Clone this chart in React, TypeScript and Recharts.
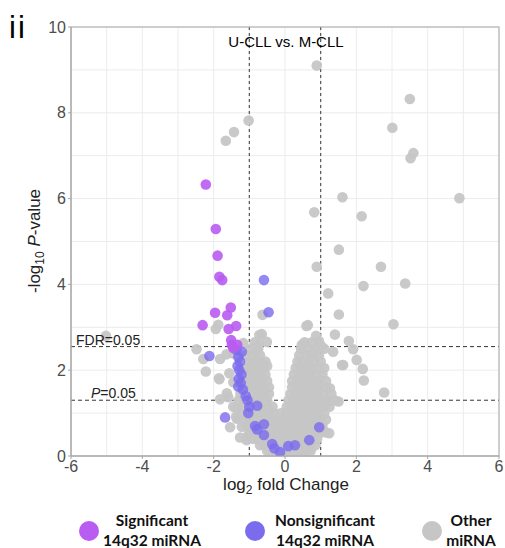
import React from 'react';
import { ScatterChart, Scatter, XAxis, YAxis, CartesianGrid, ReferenceLine, Legend } from 'recharts';

// ---------- axes ----------
const xTicks = [-6, -4, -2, 0, 2, 4, 6];
const yTicks = [0, 2, 4, 6, 8, 10];
const xGrid = [-6, -5, -4, -3, -2, -1, 0, 1, 2, 3, 4, 5, 6];
const yGrid = [0, 1, 2, 3, 4, 5, 6, 7, 8, 9, 10];
const foldThresholds = [-1, 1];
const fdrThreshold = 2.55;
const pThreshold = 1.3;

const seriesNames = ['Significant\n14q32 miRNA', 'Nonsignificant\n14q32 miRNA', 'Other\nmiRNA'];
const seriesColors = ['#b85cf2', '#7b6cee', '#c6c6c6'];

// ---------- data: [log2 fold change, -log10 P] ----------
const significant14q32: [number, number][] = [
  [-2.22, 6.33], [-1.94, 5.29], [-1.89, 4.67], [-1.84, 4.18], [-1.76, 4.1],
  [-1.96, 3.34], [-1.52, 3.46], [-1.62, 3.28], [-2.31, 3.05], [-1.37, 3.03],
  [-1.58, 2.96], [-1.51, 2.7], [-1.49, 2.59], [-1.34, 2.59], [-1.45, 2.52],
];

const nonsignificant14q32: [number, number][] = [
  [-0.59, 4.1], [-0.46, 3.35], [-2.12, 2.33], [-1.36, 2.47], [-1.21, 2.43],
  [-1.31, 2.3], [-1.26, 2.2], [-1.33, 2.1], [-1.28, 2.0], [-1.22, 1.9],
  [-1.3, 1.8], [-1.24, 1.7], [-1.31, 1.62], [-1.18, 1.55], [-1.1, 1.4],
  [-1.05, 1.3], [-1.0, 1.15], [-1.03, 1.0], [-0.78, 1.17], [-1.68, 0.9],
  [-0.84, 0.7], [-0.78, 0.62], [-0.59, 0.74], [-0.59, 0.49], [-0.36, 0.28],
  [-0.3, 0.18], [-0.14, 0.09], [0.09, 0.23], [0.28, 0.25], [0.68, 0.37],
  [0.96, 0.67],
];

const otherOutliers: [number, number][] = [
  [0.89, 9.1], [3.5, 8.32], [3.01, 7.65], [3.6, 7.06], [3.52, 6.94],
  [-1.02, 7.82], [-1.43, 7.55], [-1.66, 7.35], [1.61, 6.03], [4.89, 6.01],
  [0.82, 5.68], [2.15, 5.59], [1.51, 4.81], [0.89, 4.41], [2.69, 4.41],
  [2.2, 3.96], [3.37, 4.02], [1.21, 3.79], [1.51, 3.3], [-0.63, 3.29],
  [0.64, 3.05], [0.6, 3.03], [3.04, 3.07], [1.4, 2.83], [0.87, 2.8],
  [-0.65, 2.84], [-0.72, 2.82], [1.79, 2.68], [1.91, 2.49], [1.35, 2.43],
  [1.6, 2.12], [2.18, 2.03], [2.21, 1.76], [2.78, 1.48], [0.47, 2.59],
  [1.01, 2.57], [0.79, 2.39], [-0.5, 2.1], [-0.51, 2.66], [1.63, 2.12],
  [2.01, 2.24], [-5.02, 2.8], [-1.87, 3.06], [-1.94, 2.96], [-1.17, 2.63],
  [-2.48, 2.49], [-2.29, 2.26], [-1.82, 2.26], [-0.8, 2.45], [-0.98, 2.08],
  [-2.22, 1.97], [-1.84, 1.79], [-1.56, 1.93], [-1.45, 1.72], [-1.59, 1.37],
  [-1.35, 1.11], [-1.54, 0.67], [-1.35, 0.87], [-1.21, 0.68], [-1.06, 0.45],
  [-1.64, 2.37], [-1.45, 2.39], [-1.82, 1.32], [-1.63, 1.46], [-1.45, 1.15],
  [-1.37, 0.92], [-1.26, 0.43], [-1.08, 0.37], [-1.85, 1.81], [-0.73, 2.61],
  [1.26, 1.58], [1.19, 1.27], [1.24, 0.53], [1.5, 1.27], [1.4, 1.3],
];

const otherCloud: [number, number][] = [
  [-0.25, 0.03], [-0.1, 0.03], [0.05, 0.03], [0.2, 0.03], [0.35, 0.03], [0.5, 0.03],
  [-0.5, 0.12], [-0.35, 0.12], [-0.2, 0.12], [0.0, 0.12], [0.15, 0.12], [0.3, 0.12], [0.45, 0.12], [0.6, 0.12], [0.72, 0.12],
  [-0.7, 0.25], [-0.55, 0.25], [-0.4, 0.25], [-0.2, 0.25], [-0.05, 0.25], [0.1, 0.25], [0.25, 0.25], [0.4, 0.25], [0.55, 0.25], [0.7, 0.25], [0.85, 0.25],
  [-0.9, 0.4], [-0.75, 0.4], [-0.6, 0.4], [-0.45, 0.4], [-0.3, 0.4], [-0.15, 0.4], [0.0, 0.4], [0.15, 0.4], [0.3, 0.4], [0.45, 0.4], [0.6, 0.4], [0.75, 0.4], [0.9, 0.4],
  [-1.0, 0.55], [-0.85, 0.55], [-0.7, 0.55], [-0.5, 0.55], [-0.35, 0.55], [-0.2, 0.55], [-0.05, 0.55], [0.1, 0.55], [0.25, 0.55], [0.4, 0.55], [0.55, 0.55], [0.7, 0.55], [0.85, 0.55], [1.0, 0.55], [1.15, 0.55],
  [-1.1, 0.7], [-0.95, 0.7], [-0.75, 0.7], [-0.6, 0.7], [-0.45, 0.7], [-0.3, 0.7], [-0.15, 0.7], [0.0, 0.7], [0.15, 0.7], [0.3, 0.7], [0.45, 0.7], [0.6, 0.7], [0.75, 0.7], [0.9, 0.7], [1.05, 0.7],
  [-1.15, 0.85], [-1.0, 0.85], [-0.85, 0.85], [-0.65, 0.85], [-0.5, 0.85], [-0.35, 0.85], [-0.2, 0.85], [-0.05, 0.85], [0.1, 0.85], [0.25, 0.85], [0.4, 0.85], [0.55, 0.85], [0.7, 0.85], [0.85, 0.85], [1.0, 0.85], [1.15, 0.85],
  [-1.2, 1.0], [-0.9, 1.0], [-0.75, 1.0], [-0.6, 1.0], [-0.45, 1.0], [-0.3, 1.0], [-0.1, 1.0], [0.05, 1.0], [0.2, 1.0], [0.35, 1.0], [0.5, 1.0], [0.65, 1.0], [0.8, 1.0], [0.95, 1.0], [1.1, 1.0],
  [-1.2, 1.15], [-0.95, 1.15], [-0.65, 1.15], [-0.5, 1.15], [-0.35, 1.15], [0.05, 1.15], [0.2, 1.15], [0.35, 1.15], [0.5, 1.15], [0.65, 1.15], [0.8, 1.15], [0.95, 1.15], [1.1, 1.15], [1.25, 1.15],
  [-1.3, 1.3], [-0.95, 1.3], [-0.8, 1.3], [-0.65, 1.3], [-0.5, 1.3], [0.1, 1.3], [0.25, 1.3], [0.4, 1.3], [0.55, 1.3], [0.7, 1.3], [0.85, 1.3], [1.0, 1.3], [1.2, 1.3],
  [-1.25, 1.45], [-0.9, 1.45], [-0.75, 1.45], [-0.6, 1.45], [-0.45, 1.45], [0.15, 1.45], [0.3, 1.45], [0.45, 1.45], [0.6, 1.45], [0.75, 1.45], [0.9, 1.45], [1.05, 1.45], [1.3, 1.45],
  [-1.05, 1.6], [-0.9, 1.6], [-0.75, 1.6], [-0.6, 1.6], [-0.45, 1.6], [0.2, 1.6], [0.35, 1.6], [0.5, 1.6], [0.65, 1.6], [0.8, 1.6], [0.95, 1.6], [1.15, 1.6],
  [-1.15, 1.75], [-0.95, 1.75], [-0.8, 1.75], [-0.65, 1.75], [-0.5, 1.75], [0.2, 1.75], [0.35, 1.75], [0.5, 1.75], [0.65, 1.75], [0.8, 1.75], [0.95, 1.75], [1.15, 1.75],
  [-1.0, 1.9], [-0.85, 1.9], [-0.7, 1.9], [-0.55, 1.9], [0.25, 1.9], [0.4, 1.9], [0.55, 1.9], [0.7, 1.9], [0.85, 1.9], [1.05, 1.9],
  [-1.1, 2.05], [-0.9, 2.05], [-0.75, 2.05], [-0.6, 2.05], [0.3, 2.05], [0.45, 2.05], [0.6, 2.05], [0.75, 2.05], [0.9, 2.05], [1.1, 2.05],
  [-1.0, 2.2], [-0.85, 2.2], [-0.7, 2.2], [-0.55, 2.2], [0.35, 2.2], [0.5, 2.2], [0.65, 2.2], [0.8, 2.2], [1.0, 2.2],
  [-1.1, 2.35], [-0.9, 2.35], [-0.7, 2.35], [0.4, 2.35], [0.6, 2.35], [0.75, 2.35], [0.95, 2.35],
  [-0.95, 2.5], [-0.75, 2.5], [0.45, 2.5], [0.65, 2.5], [0.85, 2.5], [1.1, 2.5],
  [-0.85, 2.65], [0.55, 2.65], [0.75, 2.65], [0.95, 2.68],
];

const toPoints = (arr: [number, number][]) => arr.map(([x, y]) => ({ x, y }));
const otherData = toPoints([...otherCloud, ...otherOutliers]);
const nonsigData = toPoints(nonsignificant14q32);
const sigData = toPoints(significant14q32);

const W = 505;
const H = 548;
const PLOT = { left: 71, top: 27, right: 499, bottom: 456 };
const Y_AXIS_W = 40;
const X_AXIS_H = 30;

const makeDot = (color: string, opacity: number) => (props: any) => {
  const { cx, cy } = props;
  if (cx == null || cy == null) return <g />;
  return <circle cx={cx} cy={cy} r={5.3} fill={color} fillOpacity={opacity} />;
};

const LegendContent = () => {
  const centers = [89, 255, 432];
  const textX = [152, 325, 471];
  return (
    <svg width={W} height={43} style={{ overflow: 'visible', display: 'block' }}>
      {seriesNames.map((name, i) => {
        const [l1, l2] = name.split('\n');
        return (
          <g key={name}>
            <circle cx={centers[i]} cy={26} r={10} fill={seriesColors[i]} />
            <text x={textX[i]} y={21} textAnchor="middle" fontFamily="Lato" fontWeight="bold" fontSize={15.5} fill="#111">{l1}</text>
            <text x={textX[i]} y={41} textAnchor="middle" fontFamily="Lato" fontWeight="bold" fontSize={15.5} fill="#111">{l2}</text>
          </g>
        );
      })}
    </svg>
  );
};

export default function App() {
  const tickStyle = { fill: '#4d4d4d', fontSize: 16, fontFamily: 'Liberation Sans' };
  return (
    <div style={{ position: 'absolute', left: 0, top: 0, width: W, height: H, background: '#fff' }}>
      <ScatterChart
        width={W}
        height={H}
        margin={{
          top: PLOT.top,
          right: W - PLOT.right,
          bottom: H - PLOT.bottom - X_AXIS_H,
          left: PLOT.left - Y_AXIS_W,
        }}
      >
        <CartesianGrid stroke="#ececec" verticalValues={xGrid} horizontalValues={yGrid} />
        <XAxis
          type="number"
          dataKey="x"
          domain={[-6, 6]}
          ticks={xTicks}
          height={X_AXIS_H}
          allowDataOverflow
          axisLine={{ stroke: '#a6a6a6' }}
          tickLine={{ stroke: '#a6a6a6' }}
          tickSize={3}
          tickMargin={2}
          tick={tickStyle}
          interval={0}
        />
        <YAxis
          type="number"
          dataKey="y"
          domain={[0, 10]}
          ticks={yTicks}
          width={Y_AXIS_W}
          allowDataOverflow
          axisLine={{ stroke: '#a6a6a6' }}
          tickLine={{ stroke: '#a6a6a6' }}
          tickSize={3}
          tickMargin={2}
          tick={tickStyle}
          interval={0}
        />
        <Legend
          layout="horizontal"
          verticalAlign="middle"
          align="center"
          wrapperStyle={{ left: 0, top: 505, width: W, height: 43 }}
          content={() => <LegendContent />}
        />
        <Scatter name="Other miRNA" data={otherData} shape={makeDot(seriesColors[2], 0.95)} isAnimationActive={false} />
        <Scatter name="Nonsignificant 14q32 miRNA" data={nonsigData} shape={makeDot(seriesColors[1], 0.8)} isAnimationActive={false} />
        <Scatter name="Significant 14q32 miRNA" data={sigData} shape={makeDot(seriesColors[0], 0.9)} isAnimationActive={false} />
        {foldThresholds.map((v) => (
          <ReferenceLine key={v} x={v} stroke="#555" strokeWidth={1.2} strokeDasharray="3 3" />
        ))}
        <ReferenceLine y={fdrThreshold} stroke="#333" strokeWidth={1} strokeDasharray="4 3" />
        <ReferenceLine y={pThreshold} stroke="#333" strokeWidth={1} strokeDasharray="4 3" />
      </ScatterChart>
      <svg
        width={W}
        height={H}
        style={{ position: 'absolute', left: 0, top: 0, pointerEvents: 'none', overflow: 'visible' }}
      >
        <rect
          x={PLOT.left}
          y={PLOT.top}
          width={PLOT.right - PLOT.left}
          height={PLOT.bottom - PLOT.top}
          fill="none"
          stroke="#a6a6a6"
          strokeWidth={1}
        />
        <text x={9} y={38} fontFamily="Liberation Sans" fontSize={31} fill="#000" letterSpacing={2}>ii</text>
        <text x={286} y={47} textAnchor="middle" fontFamily="Liberation Sans" fontSize={15} fill="#000">U-CLL vs. M-CLL</text>
        <text x={76} y={345} fontFamily="Liberation Sans" fontSize={14} fill="#222">FDR=0.05</text>
        <text x={91} y={398} fontFamily="Liberation Sans" fontSize={14} fill="#222">
          <tspan fontStyle="italic">P</tspan>=0.05
        </text>
        <text
          transform="translate(40, 241) rotate(-90)"
          textAnchor="middle"
          fontFamily="Liberation Sans"
          fontSize={17}
          fill="#222"
        >
          -log<tspan fontSize={12} dy={4}>10</tspan>
          <tspan dy={-4}> </tspan>
          <tspan fontStyle="italic">P</tspan>-value
        </text>
        <text x={286} y={490} textAnchor="middle" fontFamily="Liberation Sans" fontSize={17} fill="#222">
          log<tspan fontSize={12} dy={4}>2</tspan>
          <tspan dy={-4}> fold Change</tspan>
        </text>
      </svg>
    </div>
  );
}
